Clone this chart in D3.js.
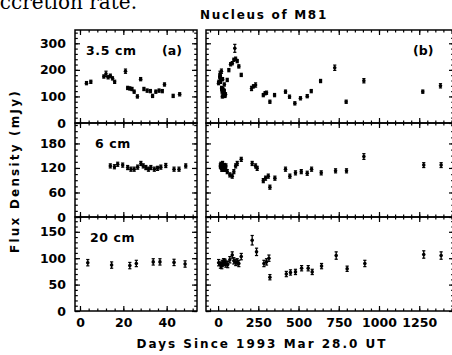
<!DOCTYPE html>
<html>
<head>
<meta charset="utf-8">
<script src="https://cdn.jsdelivr.net/npm/d3@7"></script>
<style>
  body { margin: 0; background: #fff; }
  text { font-family: "DejaVu Sans", sans-serif; font-weight: bold; fill: #000; }
</style>
</head>
<body>
<script>
var bands = ["3.5 cm", "6 cm", "20 cm"];
var panelTags = ["(a)", "(b)"];

var days35 = [3, 5, 11, 12, 13, 14, 15, 16, 21, 22, 23, 24, 25, 26.5, 28, 29.5, 31, 32.5, 33.5, 35, 36.5, 38, 39, 43, 46,
  57, 67, 78, 88, 98, 104, 109, 119, 129, 144, 208, 220, 233, 281, 292, 301, 322, 351, 419, 444, 477, 512, 554, 579, 637, 725, 796, 906, 1272, 1382];
var flux35 = [150, 155, 175, 185, 172, 178, 168, 155, 195, 132, 130, 128, 118, 100, 165, 128, 122, 120, 102, 118, 122, 120, 145, 102, 108,
  162, 199, 221, 225, 238, 281, 242, 233, 213, 181, 130, 138, 143, 105, 112, 114, 80, 105, 118, 99, 74, 93, 101, 120, 158, 208, 80, 159, 118, 140];
var err35 = [6, 6, 6, 10, 6, 6, 6, 6, 8, 6, 6, 6, 6, 6, 6, 6, 6, 6, 6, 6, 6, 6, 6, 6, 6,
  6, 6, 6, 6, 6, 15, 6, 6, 6, 6, 8, 6, 8, 6, 6, 6, 6, 6, 6, 6, 6, 6, 6, 6, 6, 10, 6, 8, 6, 8];

var days6 = [14, 15.9, 17.4, 19.7, 22, 23.5, 25, 26.6, 28.1, 29.2, 30.4, 31.6, 32.7, 34.3, 35.8, 37.3, 39.6, 43.4, 45.7, 48.8,
  57, 73, 88, 98, 109, 119, 144, 212, 233, 243, 281, 295, 312, 322, 353, 419, 446, 481, 517, 554, 581, 641, 730, 798, 906, 1278, 1386];
var flux6 = [125, 123, 129, 127, 121, 117, 117, 122, 131, 125, 121, 117, 121, 117, 119, 122, 126, 117, 117, 125,
  111, 103, 100, 111, 125, 131, 141, 131, 125, 119, 89, 95, 100, 73, 95, 117, 100, 108, 111, 107, 117, 108, 113, 113, 148, 127, 127];
var err6 = [5, 5, 5, 5, 5, 5, 5, 5, 5, 5, 5, 5, 5, 5, 5, 5, 5, 5, 5, 5,
  5, 5, 5, 5, 5, 5, 5, 5, 5, 5, 5, 5, 5, 5, 5, 5, 5, 5, 5, 5, 5, 5, 5, 5, 7, 6, 6];

var days20 = [3.6, 14.6, 23, 26, 33.8, 36.9, 43.4, 48.5,
  60, 73, 88, 98, 110, 119, 129, 144, 212, 239, 285, 301, 316, 322, 424, 450, 481, 519, 560, 585, 643, 734, 802, 912, 1278, 1386];
var flux20 = [91.5, 87, 86, 90, 93, 93, 92, 89,
  88, 97, 106, 95, 92, 93, 90, 103, 134, 112, 90, 93, 100, 64, 70, 73, 74, 81, 81, 74, 85, 105, 80, 90, 107, 105];
var err20 = [6, 6, 6, 6, 6, 6, 6, 6,
  6, 6, 6, 6, 6, 6, 6, 6, 9, 7, 6, 6, 6, 5, 5, 5, 5, 5, 5, 5, 5, 7, 5, 6, 7, 7];

var yTicks35 = [0, 100, 200, 300];
var yTicks6 = [0, 60, 120, 180];
var yTicks20 = [0, 50, 100, 150];
var xTicksL = [0, 20, 40];
var xTicksR = [0, 250, 500, 750, 1000, 1250];

var svg = d3.select("body").append("svg").attr("width", 452).attr("height", 355);

// text of the paper above the figure
svg.append("text").attr("x", 137).attr("y", 9).attr("text-anchor", "end")
  .style("font-family", "'DejaVu Serif', serif").style("font-weight", "normal").style("font-size", "20px")
  .text("accretion rate.");

svg.append("text").attr("x", 264).attr("y", 19).attr("text-anchor", "middle")
  .style("font-size", "12px").style("letter-spacing", "1.7px")
  .text("Nucleus of M81");

var xL = d3.scaleLinear().domain([-2.3, 54]).range([75, 197]);
var xR = d3.scaleLinear().domain([-75, 1466]).range([206, 454]);

var rows = [
  {top: 30, bottom: 123, max: 350, ticks: yTicks35, minor: 20, d: days35, f: flux35, e: err35, lx: 86},
  {top: 123, bottom: 217, max: 230, ticks: yTicks6, minor: 15, d: days6, f: flux6, e: err6, lx: 95},
  {top: 217, bottom: 311, max: 178, ticks: yTicks20, minor: 10, d: days20, f: flux20, e: err20, lx: 90}
];
var cols = [
  {x: xL, minor: d3.range(0, 54, 4), major: xTicksL},
  {x: xR, minor: d3.range(-50, 1466, 50), major: xTicksR}
];

function tickLines(g, axis, vals, len) {
  g.call(axis.tickValues(vals).tickSize(-len).tickSizeOuter(0).tickFormat(""));
  g.select(".domain").remove();
  g.selectAll("line").attr("stroke", "#000").attr("stroke-width", 1.2);
}

rows.forEach(function(r, ri) {
  var y = d3.scaleLinear().domain([0, r.max]).range([r.bottom, r.top]);
  var yMinor = d3.range(0, r.max, r.minor);

  cols.forEach(function(c, ci) {
    var x = c.x;
    var x0 = x.range()[0], x1 = x.range()[1];
    var g = svg.append("g");

    tickLines(g.append("g").attr("transform", "translate(0," + r.bottom + ")"), d3.axisBottom(x), c.minor, 2.5);
    tickLines(g.append("g").attr("transform", "translate(0," + r.bottom + ")"), d3.axisBottom(x), c.major, 5);
    tickLines(g.append("g").attr("transform", "translate(0," + r.top + ")"), d3.axisTop(x), c.minor, 2.5);
    tickLines(g.append("g").attr("transform", "translate(0," + r.top + ")"), d3.axisTop(x), c.major, 5);
    tickLines(g.append("g").attr("transform", "translate(" + x0 + ",0)"), d3.axisLeft(y), yMinor, 2.8);
    tickLines(g.append("g").attr("transform", "translate(" + x0 + ",0)"), d3.axisLeft(y), r.ticks, 5);
    tickLines(g.append("g").attr("transform", "translate(" + x1 + ",0)"), d3.axisRight(y), yMinor, 2.8);
    tickLines(g.append("g").attr("transform", "translate(" + x1 + ",0)"), d3.axisRight(y), r.ticks, 5);

    g.append("rect")
      .attr("x", x0).attr("y", r.top)
      .attr("width", x1 - x0).attr("height", r.bottom - r.top)
      .attr("fill", "none").attr("stroke", "#000").attr("stroke-width", 1.5);

    var clipId = "clip" + ri + ci;
    svg.append("clipPath").attr("id", clipId).append("rect")
      .attr("x", x0).attr("y", r.top).attr("width", x1 - x0).attr("height", r.bottom - r.top);

    var pts = g.append("g").attr("clip-path", "url(#" + clipId + ")")
      .selectAll("g").data(r.d).enter().append("g");

    pts.append("line")
      .attr("x1", function(d) { return x(d); }).attr("x2", function(d) { return x(d); })
      .attr("y1", function(d, i) { return y(r.f[i] - r.e[i]); })
      .attr("y2", function(d, i) { return y(r.f[i] + r.e[i]); })
      .attr("stroke", "#000").attr("stroke-width", 1.3);
    [-1, 1].forEach(function(s) {
      pts.append("line")
        .attr("x1", function(d) { return x(d) - 1.6; }).attr("x2", function(d) { return x(d) + 1.6; })
        .attr("y1", function(d, i) { return y(r.f[i] + s * r.e[i]); })
        .attr("y2", function(d, i) { return y(r.f[i] + s * r.e[i]); })
        .attr("stroke", "#000").attr("stroke-width", 1.2);
    });
    pts.append("circle")
      .attr("cx", function(d) { return x(d); })
      .attr("cy", function(d, i) { return y(r.f[i]); })
      .attr("r", 1.8).attr("fill", "#000");

    if (ci == 0) {
      var la = g.append("g").attr("transform", "translate(" + x0 + ",0)")
        .call(d3.axisLeft(y).tickValues(r.ticks).tickSize(0).tickPadding(9).tickFormat(d3.format("d")));
      la.select(".domain").remove();
      la.selectAll("text").style("font-size", "12.5px").style("font-family", "'DejaVu Sans', sans-serif");
    }
    if (ri == 2) {
      var lb = g.append("g").attr("transform", "translate(0," + r.bottom + ")")
        .call(d3.axisBottom(x).tickValues(c.major).tickSize(0).tickPadding(7).tickFormat(d3.format("d")));
      lb.select(".domain").remove();
      lb.selectAll("text").style("font-size", "12.5px").style("font-family", "'DejaVu Sans', sans-serif");
    }
  });

  svg.append("text").attr("x", r.lx).attr("y", r.top + 25)
    .style("font-size", "12.5px").style("letter-spacing", "0.6px")
    .text(bands[ri]);
});

svg.append("text").attr("x", 162).attr("y", 55).style("font-size", "12.5px").text(panelTags[0]);
svg.append("text").attr("x", 413).attr("y", 55).style("font-size", "12.5px").text(panelTags[1]);

svg.append("text").attr("x", 262).attr("y", 348).attr("text-anchor", "middle")
  .style("font-size", "12px").style("letter-spacing", "2px")
  .text("Days Since 1993 Mar 28.0 UT");

svg.append("text").attr("transform", "translate(19,171) rotate(-90)").attr("text-anchor", "middle")
  .style("font-size", "12px").style("letter-spacing", "2.2px")
  .text("Flux Density (mJy)");
</script>
</body>
</html>
